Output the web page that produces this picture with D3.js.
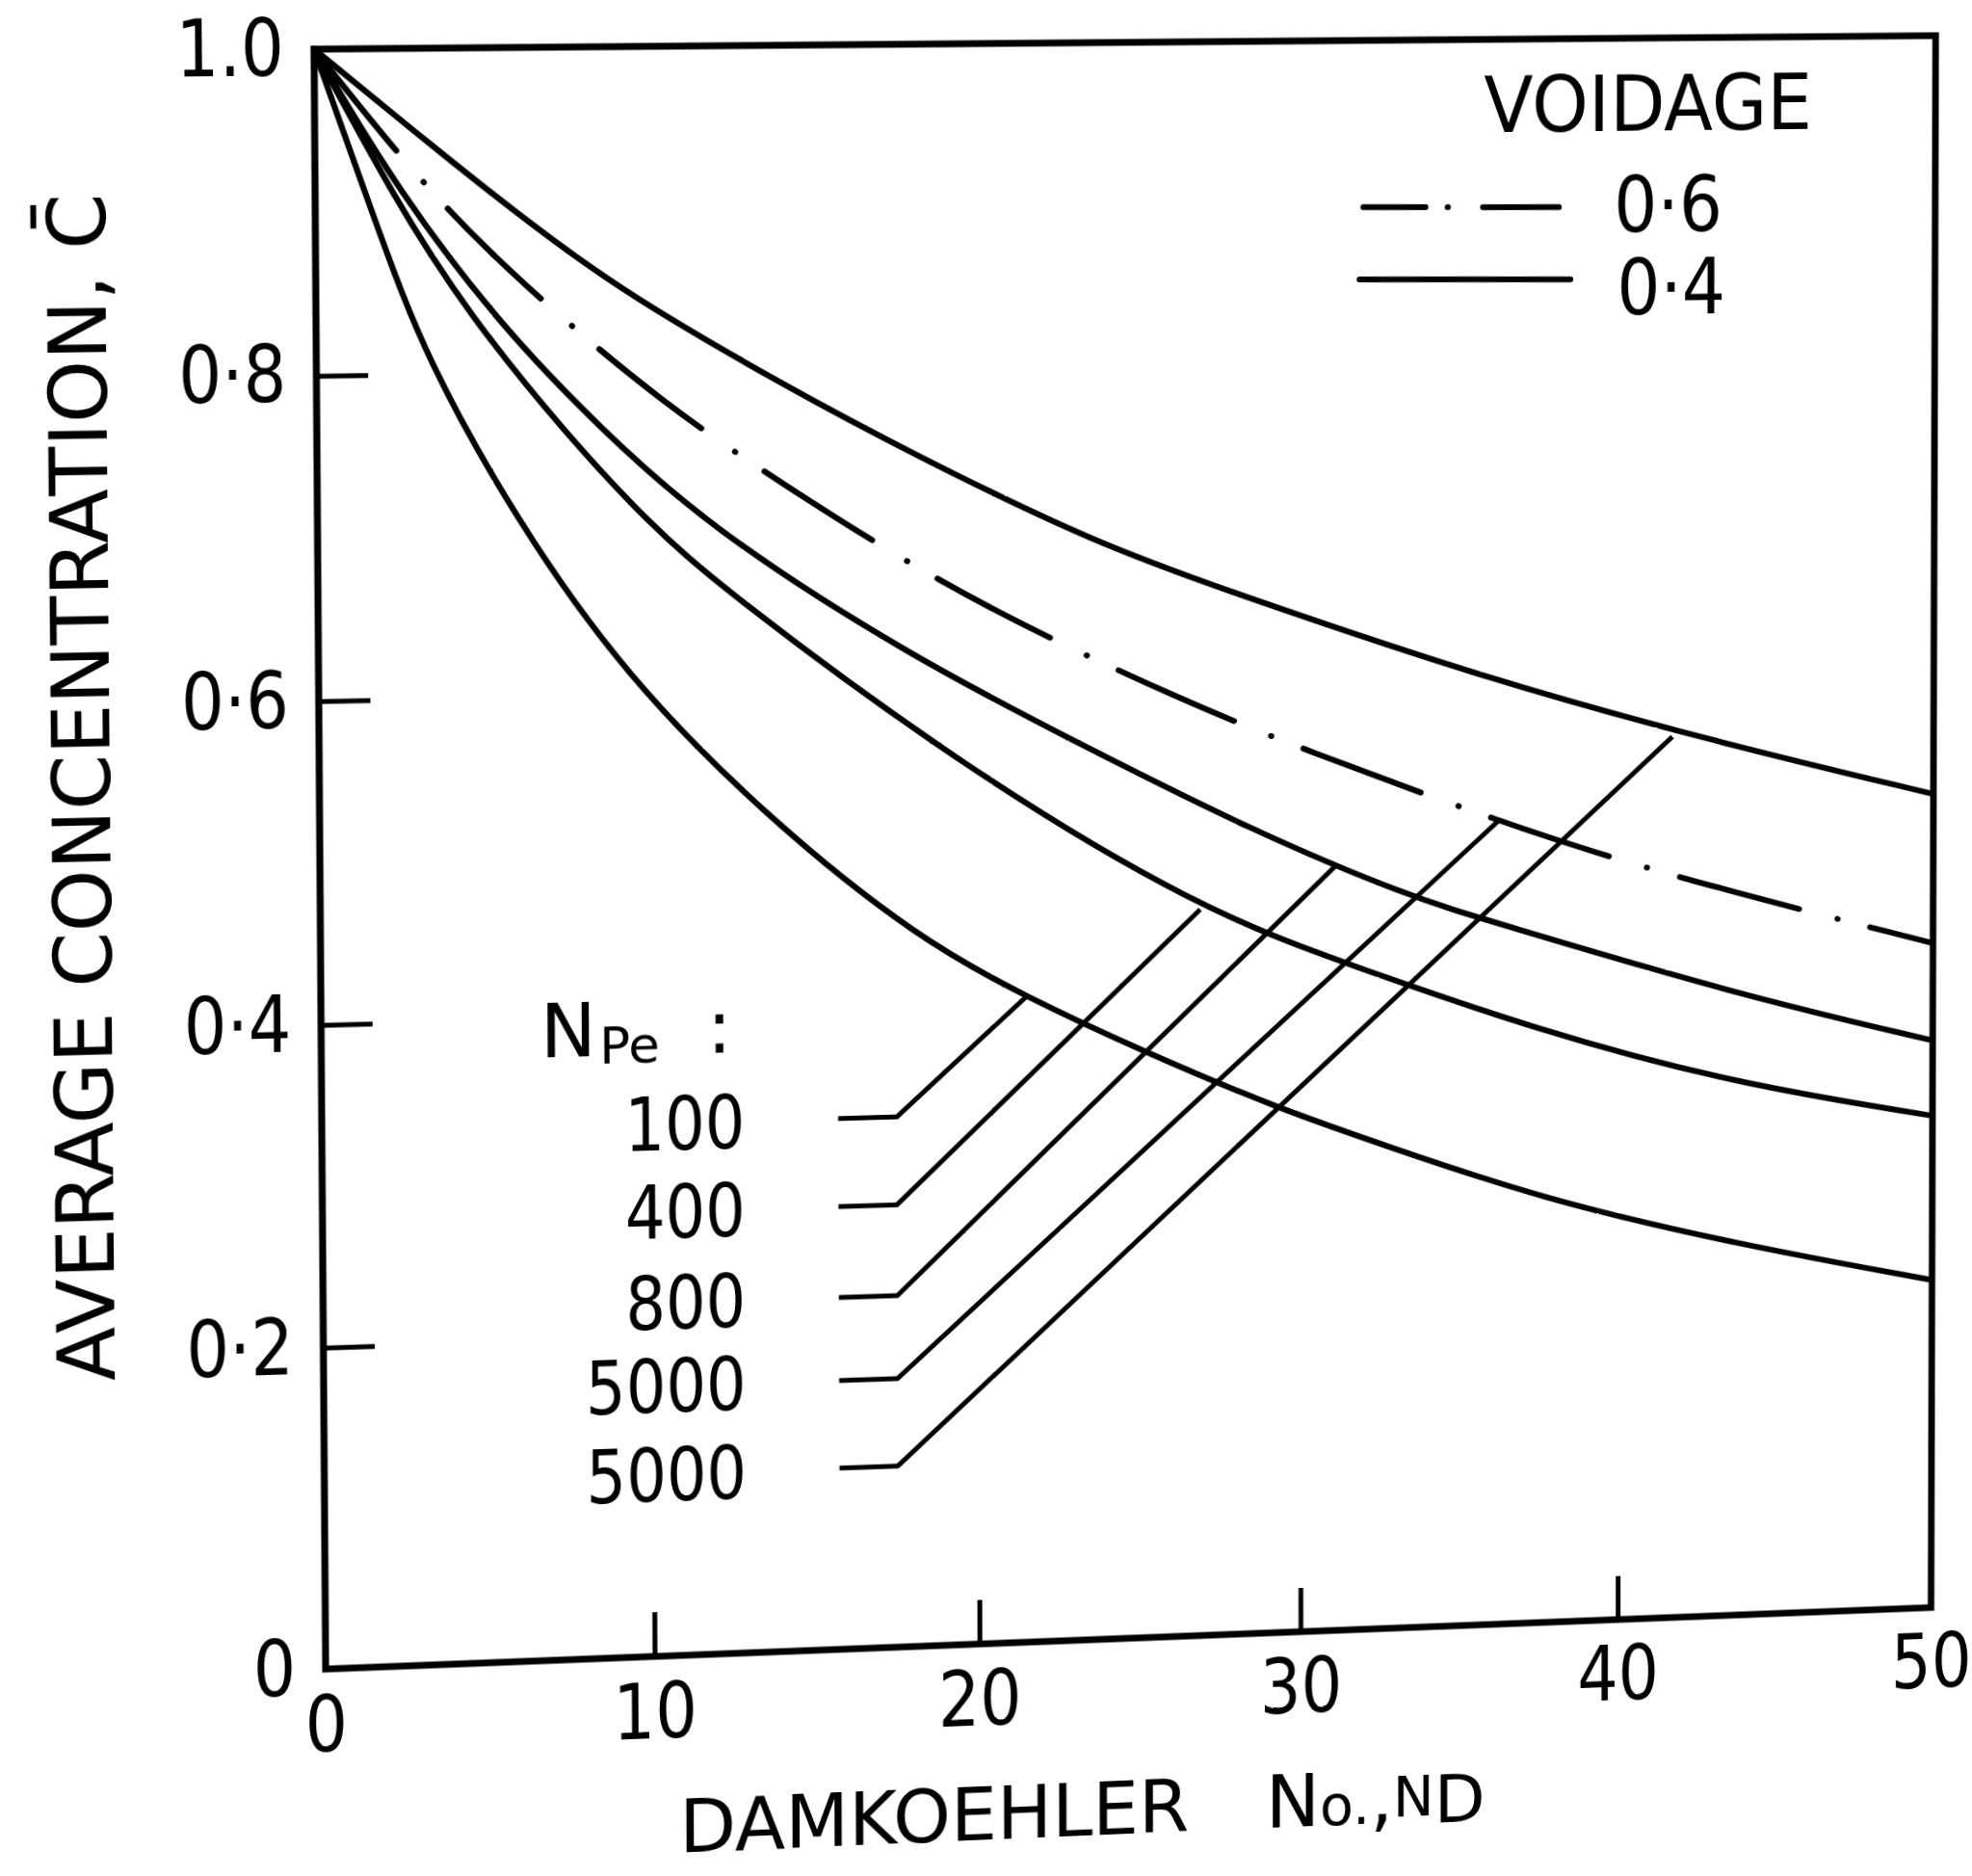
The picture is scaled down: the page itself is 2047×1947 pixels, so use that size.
<!DOCTYPE html>
<html>
<head>
<meta charset="utf-8">
<script src="https://cdn.jsdelivr.net/npm/d3@7"></script>
<style>
  html, body { margin: 0; padding: 0; background: #fff; overflow: hidden; }
  #chart { position: absolute; left: 0; top: 0; }
  text { font-family: "DejaVu Sans", sans-serif; fill: #000; }
</style>
</head>
<body>
<div id="chart"></div>
<script>
// Average concentration against Damkoehler number
const xTicks = [0, 10, 20, 30, 40, 50];
const xTickLabels = ["0", "10", "20", "30", "40", "50"];
const yTicks = [0, 0.2, 0.4, 0.6, 0.8, 1.0];
const yTickLabels = ["0", "0·2", "0·4", "0·6", "0·8", "1.0"];

// [N_D, C] pairs
const npe100 = [[0, 1], [1.9, 0.888], [3.3, 0.809], [6.0, 0.709], [9.2, 0.613], [13.7, 0.519], [18.2, 0.444],
  [21.4, 0.407], [25.2, 0.369], [29.5, 0.330], [32.7, 0.306], [37.5, 0.270], [43.7, 0.237], [50, 0.210]];
const npe400 = [[0, 1], [2.4, 0.907], [4.6, 0.836], [7.5, 0.762], [10.0, 0.706], [12.2, 0.665], [19.6, 0.550],
  [26.9, 0.458], [31.4, 0.422], [37.5, 0.376], [43.7, 0.339], [50, 0.315]];
const npe800 = [[0, 1], [2.5, 0.912], [5.6, 0.828], [8.5, 0.766], [11.8, 0.703], [17.9, 0.621], [23.5, 0.560],
  [28.5, 0.507], [33.4, 0.463], [36.0, 0.446], [43.7, 0.396], [50, 0.363]];
const npe5000v06 = [[0, 1], [3.1, 0.919], [6.1, 0.856], [10.6, 0.777], [14.3, 0.726], [17.3, 0.686], [21.1, 0.641],
  [26.4, 0.589], [30.0, 0.558], [36.2, 0.509], [41.4, 0.473], [50, 0.425]];
const npe5000v04 = [[0, 1], [3.7, 0.937], [6.5, 0.891], [9.4, 0.847], [14.3, 0.788], [17.9, 0.748], [23.6, 0.689],
  [28.5, 0.652], [35.7, 0.600], [42.9, 0.557], [50, 0.520]];

const npeLabels = ["100", "400", "800", "5000", "5000"];
const npeVoidage = [0.4, 0.4, 0.4, 0.6, 0.4];
const npeSeries = [npe100, npe400, npe800, npe5000v06, npe5000v04];
const voidageLabels = ["0·6", "0·4"];

// ---- page and perspective of the scan ----
const W = 2047, H = 1947;
const L = 332, T = 44, R = 2006, B = 1700;
// where the plot frame corners ended up on the photographed page (TL, TR, BR, BL)
const quad = [[326, 51], [2009, 37], [2004, 1668], [338, 1732]];

function squareToQuad(q) {
  const [x0, y0] = q[0], [x1, y1] = q[1], [x2, y2] = q[2], [x3, y3] = q[3];
  const dx1 = x1 - x2, dx2 = x3 - x2, dx3 = x0 - x1 + x2 - x3;
  const dy1 = y1 - y2, dy2 = y3 - y2, dy3 = y0 - y1 + y2 - y3;
  const det = dx1 * dy2 - dx2 * dy1;
  const g = (dx3 * dy2 - dx2 * dy3) / det, h = (dx1 * dy3 - dx3 * dy1) / det;
  return [[x1 - x0 + g * x1, x3 - x0 + h * x3, x0], [y1 - y0 + g * y1, y3 - y0 + h * y3, y0], [g, h, 1]];
}
function mul3(a, b) {
  return a.map(row => [0, 1, 2].map(j => row[0] * b[0][j] + row[1] * b[1][j] + row[2] * b[2][j]));
}
function inv3(m) {
  const [[a, b, c], [d, e, f], [g, h, k]] = m;
  const A = e * k - f * h, Bc = -(d * k - f * g), C = d * h - e * g;
  const det = a * A + b * Bc + c * C;
  return [
    [A / det, -(b * k - c * h) / det, (b * f - c * e) / det],
    [Bc / det, (a * k - c * g) / det, -(a * f - c * d) / det],
    [C / det, -(a * h - b * g) / det, (a * e - b * d) / det]
  ];
}
const toUnit = [[1 / (R - L), 0, -L / (R - L)], [0, 1 / (B - T), -T / (B - T)], [0, 0, 1]];
const Hraw = mul3(squareToQuad(quad), toUnit);
const Hn = Hraw.map(r => r.map(v => v / Hraw[2][2]));
const Hi = inv3(Hn);
// page position -> drawing position (so free text lands where it sits on the page)
function unwarp(X, Y) {
  const p = [0, 1, 2].map(i => Hi[i][0] * X + Hi[i][1] * Y + Hi[i][2]);
  return [p[0] / p[2], p[1] / p[2]];
}
const warpCss = `matrix3d(${Hn[0][0]},${Hn[1][0]},0,${Hn[2][0]},${Hn[0][1]},${Hn[1][1]},0,${Hn[2][1]},0,0,1,0,${Hn[0][2]},${Hn[1][2]},0,${Hn[2][2]})`;

const svg = d3.select("#chart").append("svg")
    .attr("width", W)
    .attr("height", H)
    .style("overflow", "visible")
    .style("transform-origin", "0 0")
    .style("transform", warpCss);

svg.append("rect").attr("width", W).attr("height", H).attr("fill", "#fff");

const x = d3.scaleLinear().domain([0, 50]).range([L, R]);
const y = d3.scaleLinear().domain([0, 1]).range([B, T]);

const NUM_SQUEEZE = 0.85;

// axes, ticks point inward
const yAxis = d3.axisLeft(y)
    .tickValues(yTicks)
    .tickFormat((d, i) => yTickLabels[i])
    .tickSize(-52)
    .tickSizeOuter(0)
    .tickPadding(30);
const gy = svg.append("g").attr("transform", `translate(${L},0)`).call(yAxis);
gy.select(".domain").remove();
gy.selectAll(".tick line").attr("stroke", "#000").attr("stroke-width", 5);
gy.selectAll(".tick text")
    .attr("font-size", 80)
    .attr("font-family", "DejaVu Sans")
    .attr("fill", "#000")
    .attr("x", -30 / NUM_SQUEEZE)
    .attr("transform", `scale(${NUM_SQUEEZE},1)`);

const xAxis = d3.axisBottom(x)
    .tickValues(xTicks)
    .tickFormat((d, i) => xTickLabels[i])
    .tickSize(-46)
    .tickSizeOuter(0)
    .tickPadding(28);
const gx = svg.append("g").attr("transform", `translate(0,${B})`).call(xAxis);
gx.select(".domain").remove();
gx.selectAll(".tick line").attr("stroke", "#000").attr("stroke-width", 5);
gx.selectAll(".tick text")
    .attr("font-size", 80)
    .attr("font-family", "DejaVu Sans")
    .attr("fill", "#000")
    .attr("transform", `scale(${NUM_SQUEEZE},1)`);

// frame
svg.append("rect")
    .attr("x", L).attr("y", T)
    .attr("width", R - L).attr("height", B - T)
    .attr("fill", "none")
    .attr("stroke", "#000")
    .attr("stroke-width", 7);

// curves
const line = d3.line()
    .x(d => x(d[0]))
    .y(d => y(d[1]))
    .curve(d3.curveBasis);

svg.append("g").selectAll("path")
    .data(npeSeries)
    .enter().append("path")
    .attr("d", line)
    .attr("fill", "none")
    .attr("stroke", "#000")
    .attr("stroke-width", 6)
    .attr("stroke-linecap", "round")
    .attr("stroke-dasharray", (d, i) => npeVoidage[i] === 0.6 ? "132 42 0.5 36" : null);

// N_Pe labels with leader lines (annotation layout in data units)
const labelX = 12.85, leaderStartX = 15.7, leaderElbowX = 17.5;
const leaderY = [0.333, 0.278, 0.221, 0.169, 0.114];
const leaderEnd = [[21.5, 0.406], [26.9, 0.458], [31.1, 0.483], [36.2, 0.509], [41.7, 0.560]];

const leader = d3.line().x(d => x(d[0])).y(d => y(d[1]));
svg.append("g").selectAll("path")
    .data(npeLabels)
    .enter().append("path")
    .attr("d", (d, i) => leader([[leaderStartX, leaderY[i]], [leaderElbowX, leaderY[i]], leaderEnd[i]]))
    .attr("fill", "none")
    .attr("stroke", "#000")
    .attr("stroke-width", 5)
    .attr("stroke-linejoin", "round");

const npeBlock = svg.append("text")
    .attr("transform", `scale(${NUM_SQUEEZE},1)`)
    .attr("text-anchor", "end")
    .attr("font-size", 76);
npeBlock.selectAll("tspan")
    .data(npeLabels)
    .enter().append("tspan")
    .attr("x", x(labelX) / NUM_SQUEEZE)
    .attr("y", (d, i) => y(leaderY[i]))
    .attr("dy", "0.36em")
    .text(d => d);

// "N_Pe :" heading, drawn as three separate pieces
const npeBase = [x(6.62), y(0.3765)];
svg.append("text")
    .attr("x", npeBase[0]).attr("y", npeBase[1])
    .attr("font-size", 76)
    .text("N");
svg.append("text")
    .attr("x", npeBase[0] + 60).attr("y", npeBase[1] + 8)
    .attr("font-size", 52)
    .text("Pe");
svg.append("text")
    .attr("x", npeBase[0] + 170).attr("y", npeBase[1])
    .attr("font-size", 76)
    .text(":");

// legend
const pV = unwarp(1540, 137);
svg.append("text")
    .attr("x", pV[0]).attr("y", pV[1])
    .attr("font-size", 80)
    .attr("textLength", 346)
    .attr("lengthAdjust", "spacingAndGlyphs")
    .text("VOIDAGE");

const legendRows = [
  {a: unwarp(1415, 215), b: unwarp(1618, 215), t: unwarp(1675, 241), dash: "65 23 0.5 36.5 80"},
  {a: unwarp(1411, 290), b: unwarp(1630, 290), t: unwarp(1678, 326), dash: null}
];
legendRows.forEach((r, i) => {
  svg.append("line")
      .attr("x1", r.a[0]).attr("y1", r.a[1])
      .attr("x2", r.b[0]).attr("y2", r.b[1])
      .attr("stroke", "#000")
      .attr("stroke-width", 6)
      .attr("stroke-linecap", "round")
      .attr("stroke-dasharray", r.dash);
  svg.append("g")
      .attr("transform", `translate(${r.t[0]},${r.t[1]})`)
      .append("text")
      .attr("transform", `scale(0.9,1)`)
      .attr("font-size", 80)
      .text(voidageLabels[i]);
});

// axis titles
const pY = unwarp(114, 819);
svg.append("text")
    .attr("transform", `translate(${pY[0]},${pY[1]}) rotate(-90)`)
    .attr("text-anchor", "middle")
    .attr("font-size", 80)
    .attr("textLength", 1208)
    .attr("lengthAdjust", "spacingAndGlyphs")
    .text("AVERAGE  CONCENTRATION, C\u0304");

const pX = unwarp(705, 1922);
const xTitle = svg.append("text")
    .attr("x", pX[0]).attr("y", pX[1])
    .attr("font-size", 76);
xTitle.append("tspan").text("DAMKOEHLER");
xTitle.append("tspan").attr("dx", 80).text("N");
xTitle.append("tspan").attr("font-size", 58).text("o.");
xTitle.append("tspan").text(",");
xTitle.append("tspan").attr("font-size", 58).attr("dy", -6).text("N");
xTitle.append("tspan").attr("font-size", 70).attr("dy", 8).text("D");
</script>
</body>
</html>
